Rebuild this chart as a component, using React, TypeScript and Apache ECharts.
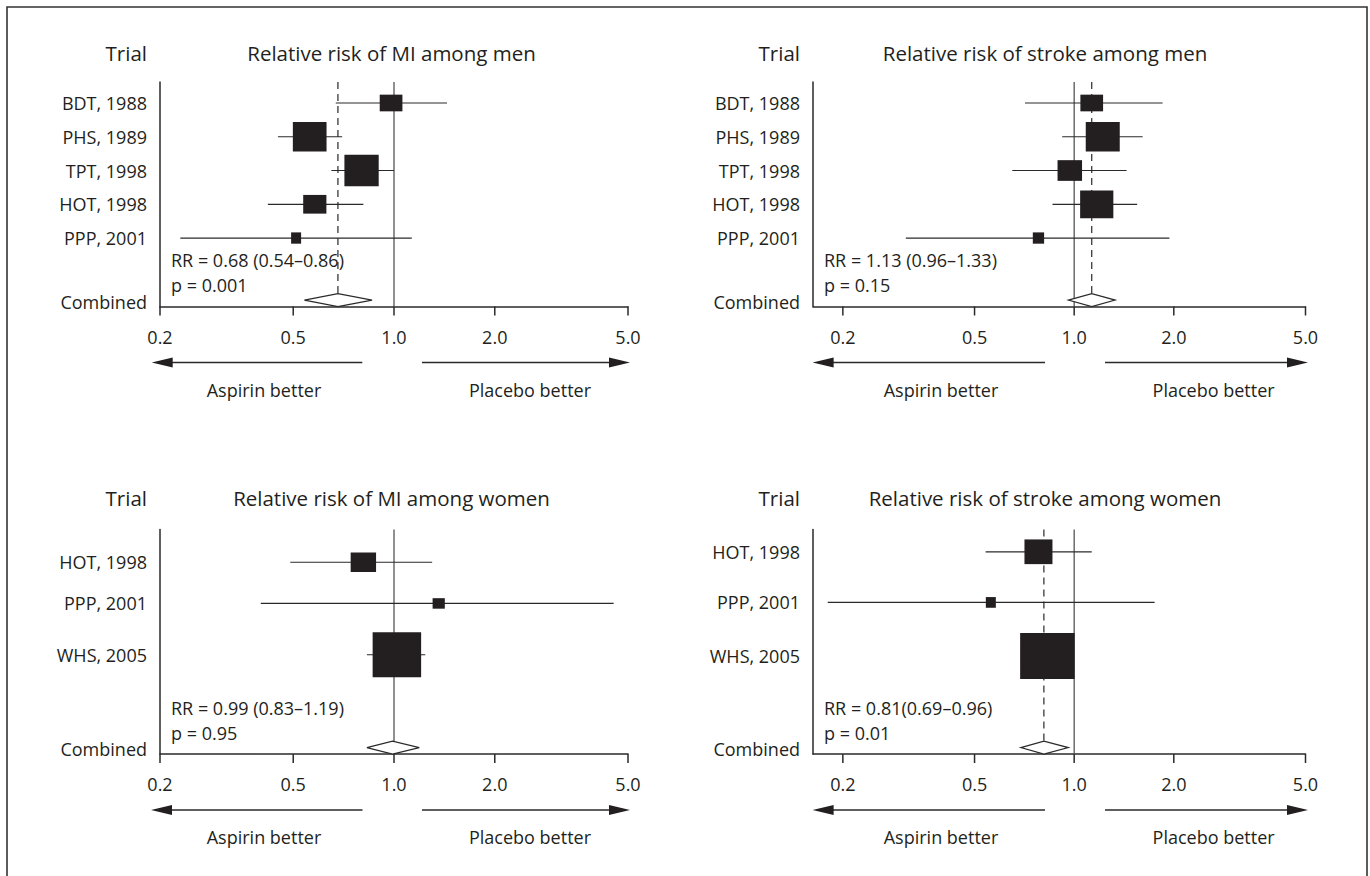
import React, { useEffect, useRef } from 'react';
import * as echarts from 'echarts';

// ---------- DATA ----------
const trialsMen = ['BDT, 1988', 'PHS, 1989', 'TPT, 1998', 'HOT, 1998', 'PPP, 2001'];
const trialsWomen = ['HOT, 1998', 'PPP, 2001', 'WHS, 2005'];

const miMenRR = [0.98, 0.56, 0.80, 0.58, 0.51];
const miMenLo = [0.67, 0.45, 0.65, 0.42, 0.23];
const miMenHi = [1.44, 0.70, 1.00, 0.81, 1.13];
const miMenCombined = [0.54, 0.68, 0.86];

const strokeMenRR = [1.13, 1.22, 0.97, 1.17, 0.78];
const strokeMenLo = [0.71, 0.92, 0.65, 0.86, 0.31];
const strokeMenHi = [1.85, 1.61, 1.44, 1.55, 1.94];
const strokeMenCombined = [0.96, 1.13, 1.33];

const miWomenRR = [0.81, 1.36, 1.02];
const miWomenLo = [0.49, 0.40, 0.83];
const miWomenHi = [1.30, 4.53, 1.24];
const miWomenCombined = [0.83, 0.99, 1.19];

const strokeWomenRR = [0.78, 0.56, 0.83];
const strokeWomenLo = [0.54, 0.18, 0.69];
const strokeWomenHi = [1.13, 1.75, 0.99];
const strokeWomenCombined = [0.69, 0.81, 0.96];

const tickValues = [0.2, 0.5, 1.0, 2.0, 5.0];
const tickLabels = ['0.2', '0.5', '1.0', '2.0', '5.0'];

// ---------- STYLE / LAYOUT ----------
const FONT = '"Open Sans", "Noto Sans", sans-serif';
const FS = 18;
const FS_HEAD = 20.5;
const INK = '#231f20';
const LINE = '#2a2a2a';

const rowsTop = [0.622, 1.622, 2.622, 3.622, 4.622];
const rowsBL = [0.97, 2.19, 3.71];
const rowsBR = [0.66, 2.16, 3.75];
const combRow = 6.46;
const Y_MAX = 6.65;

const boxesMiMen = [[22.7, 16.7], [33.7, 29.7], [34.3, 31.7], [23.2, 18.7], [10, 11.3]];
const boxesStrokeMen = [[22.7, 16.7], [34, 29.7], [24.5, 20.7], [33.2, 27.7], [11.3, 11.3]];
const boxesMiWomen = [[25.4, 19.5], [12.2, 10.5], [48.5, 45]];
const boxesStrokeWomen = [[28, 24.7], [10, 10.7], [54.5, 46]];

const panels = [
  {
    title: 'Relative risk of MI among men', trials: trialsMen, rr: miMenRR, lo: miMenLo, hi: miMenHi,
    comb: miMenCombined, rrText: 'RR = 0.68 (0.54\u20130.86)', pText: 'p = 0.001',
    left: 160, top: 82, width: 468, xMin: 0.2, rows: rowsTop, boxes: boxesMiMen, dashed: true,
    titleX: 391.5, titleY: 53, arrows: [151.7, 362.3, 422, 630], aspX: 264, plaX: 530,
  },
  {
    title: 'Relative risk of stroke among men', trials: trialsMen, rr: strokeMenRR, lo: strokeMenLo, hi: strokeMenHi,
    comb: strokeMenCombined, rrText: 'RR = 1.13 (0.96\u20131.33)', pText: 'p = 0.15',
    left: 813, top: 82, width: 492.5, xMin: 0.1625, rows: rowsTop, boxes: boxesStrokeMen, dashed: true,
    titleX: 1045, titleY: 53, arrows: [812.6, 1045, 1105, 1308], aspX: 941, plaX: 1213.6,
  },
  {
    title: 'Relative risk of MI among women', trials: trialsWomen, rr: miWomenRR, lo: miWomenLo, hi: miWomenHi,
    comb: miWomenCombined, rrText: 'RR = 0.99 (0.83\u20131.19)', pText: 'p = 0.95',
    left: 160, top: 529.5, width: 468, xMin: 0.2, rows: rowsBL, boxes: boxesMiWomen, dashed: false,
    titleX: 391.5, titleY: 498, arrows: [151, 362.5, 422, 630], aspX: 264, plaX: 530,
  },
  {
    title: 'Relative risk of stroke among women', trials: trialsWomen, rr: strokeWomenRR, lo: strokeWomenLo, hi: strokeWomenHi,
    comb: strokeWomenCombined, rrText: 'RR = 0.81(0.69\u20130.96)', pText: 'p = 0.01',
    left: 813, top: 529.5, width: 492.5, xMin: 0.1625, rows: rowsBR, boxes: boxesStrokeWomen, dashed: true,
    titleX: 1045, titleY: 498, arrows: [812.6, 1045, 1105, 1308], aspX: 941, plaX: 1213.6,
  },
];
const GRID_H = 224.5;

function txt(text: string, x: number, y: number, align: string, extra: any = {}) {
  return {
    type: 'text',
    x, y,
    style: {
      text, x: 0, y: 0, fill: INK, fontSize: FS, fontFamily: FONT,
      align, textAlign: align, verticalAlign: 'middle', textVerticalAlign: 'middle', ...extra,
    },
  };
}

function buildOption() {
  const grids: any[] = [];
  const xAxes: any[] = [];
  const yAxes: any[] = [];
  const series: any[] = [];
  const graphics: any[] = [];

  graphics.push({
    type: 'polyline',
    shape: { points: [[7, 900], [7, 7], [1367, 7], [1367, 900]] },
    style: { stroke: '#333', lineWidth: 1.6, fill: 'none' },
  });

  panels.forEach((p, i) => {
    grids.push({ left: p.left, top: p.top, width: p.width, height: GRID_H, containLabel: false });
    xAxes.push({
      type: 'log', logBase: 10, gridIndex: i, min: p.xMin, max: 5,
      axisLine: { show: true, onZero: false, lineStyle: { color: LINE, width: 1.5 } },
      axisTick: { show: false }, axisLabel: { show: false }, splitLine: { show: false },
    });
    yAxes.push({
      type: 'value', gridIndex: i, min: 0, max: Y_MAX, inverse: true,
      axisLine: { show: true, onZero: false, lineStyle: { color: LINE, width: 1.5 } },
      axisTick: { show: false }, axisLabel: { show: false }, splitLine: { show: false },
    });

    // reference lines, combined diamond, texts
    series.push({
      type: 'custom', xAxisIndex: i, yAxisIndex: i, clip: false, silent: true,
      data: [[p.comb[0], p.comb[1], p.comb[2], combRow]],
      encode: { x: [0, 1, 2], y: 3 },
      renderItem: (params: any, api: any) => {
        const lo = api.value(0), rr = api.value(1), hi = api.value(2), row = api.value(3);
        const cs = params.coordSys;
        const top = cs.y, bottom = cs.y + cs.height, left = cs.x;
        const c = api.coord([rr, row]);
        const l = api.coord([lo, row]);
        const r = api.coord([hi, row]);
        const one = api.coord([1, row]);
        const hh = 6.5;
        const children: any[] = [
          { type: 'line', shape: { x1: one[0], y1: top, x2: one[0], y2: bottom }, style: { stroke: '#555', lineWidth: 1.3 } },
        ];
        if (p.dashed) {
          children.push({ type: 'line', shape: { x1: c[0], y1: top, x2: c[0], y2: c[1] - hh }, style: { stroke: LINE, lineWidth: 1.2, lineDash: [7, 5] } });
        }
        children.push({
          type: 'polygon',
          shape: { points: [[l[0], c[1]], [c[0], c[1] - hh], [r[0], c[1]], [c[0], c[1] + hh]] },
          style: { fill: '#fff', stroke: LINE, lineWidth: 1.2 },
        });
        children.push(txt('Combined', left - 13, bottom - 5, 'right'));
        children.push(txt(p.rrText, left + 11, bottom - 46.5, 'left'));
        children.push(txt(p.pText, left + 11, bottom - 21.5, 'left'));
        return { type: 'group', children };
      },
    });

    // trials
    series.push({
      type: 'custom', xAxisIndex: i, yAxisIndex: i, clip: false, silent: true,
      data: p.trials.map((_, k) => [p.lo[k], p.rr[k], p.hi[k], p.rows[k], k]),
      encode: { x: [0, 1, 2], y: 3 },
      renderItem: (params: any, api: any) => {
        const lo = api.value(0), rr = api.value(1), hi = api.value(2), row = api.value(3), k = api.value(4);
        const cs = params.coordSys;
        const a = api.coord([lo, row]);
        const b = api.coord([hi, row]);
        const c = api.coord([rr, row]);
        const [w, h] = p.boxes[k];
        return {
          type: 'group',
          children: [
            { type: 'line', shape: { x1: a[0], y1: a[1], x2: b[0], y2: b[1] }, style: { stroke: LINE, lineWidth: 1.2 } },
            { type: 'rect', shape: { x: c[0] - w / 2, y: c[1] - h / 2, width: w, height: h }, style: { fill: INK } },
            txt(p.trials[k], cs.x - 13, c[1], 'right'),
          ],
        };
      },
    });

    // axis ticks and labels
    series.push({
      type: 'custom', xAxisIndex: i, yAxisIndex: i, clip: false, silent: true,
      data: tickValues.map((v, k) => [v, k]),
      encode: { x: 0, y: 1 },
      renderItem: (params: any, api: any) => {
        const v = api.value(0), k = api.value(1);
        const cs = params.coordSys;
        const yb = cs.y + cs.height;
        const x = api.coord([v, 0])[0];
        return {
          type: 'group',
          children: [
            { type: 'line', shape: { x1: x, y1: yb, x2: x, y2: yb + 9 }, style: { stroke: LINE, lineWidth: 1.5 } },
            txt(tickLabels[k], x, yb + 30, 'center'),
          ],
        };
      },
    });

    // headers
    graphics.push(txt('Trial', p.left - 13, p.titleY, 'right', { fontSize: FS_HEAD }));
    graphics.push(txt(p.title, p.titleX, p.titleY, 'center', { fontSize: FS_HEAD }));

    // arrows
    const axisY = p.top + GRID_H;
    const ay = axisY + 56;
    const [lt, ltail, rtail, rt] = p.arrows;
    graphics.push({ type: 'line', shape: { x1: lt + 18, y1: ay, x2: ltail, y2: ay }, style: { stroke: LINE, lineWidth: 1.5 } });
    graphics.push({ type: 'polygon', shape: { points: [[lt, ay], [lt + 21, ay - 5], [lt + 21, ay + 5]] }, style: { fill: INK } });
    graphics.push({ type: 'line', shape: { x1: rtail, y1: ay, x2: rt - 18, y2: ay }, style: { stroke: LINE, lineWidth: 1.5 } });
    graphics.push({ type: 'polygon', shape: { points: [[rt, ay], [rt - 21, ay - 5], [rt - 21, ay + 5]] }, style: { fill: INK } });
    graphics.push(txt('Aspirin better', p.aspX, axisY + 83, 'center'));
    graphics.push(txt('Placebo better', p.plaX, axisY + 83, 'center'));
  });

  return {
    animation: false,
    backgroundColor: '#ffffff',
    grid: grids,
    xAxis: xAxes,
    yAxis: yAxes,
    series,
    graphic: graphics,
  };
}

export default function App() {
  const ref = useRef<HTMLDivElement>(null);
  useEffect(() => {
    const chart = echarts.init(ref.current!, null, { renderer: 'svg' });
    chart.setOption(buildOption() as any);
    return () => chart.dispose();
  }, []);
  return (
    <div
      ref={ref}
      style={{ position: 'absolute', left: 0, top: 0, width: 1370, height: 876, background: '#fff' }}
    />
  );
}
